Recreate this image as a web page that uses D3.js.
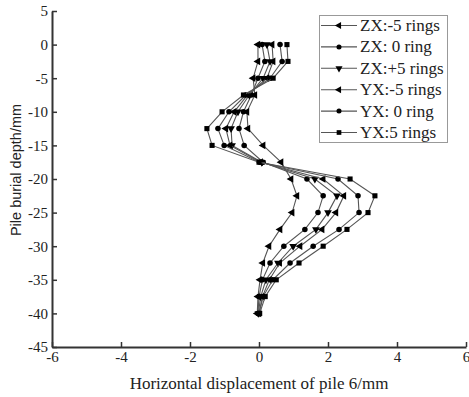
<!DOCTYPE html>
<html>
<head>
<meta charset="utf-8">
<script src="https://cdn.jsdelivr.net/npm/d3@7"></script>
<style>
  html, body { margin: 0; padding: 0; background: #fff; }
  svg text { font-family: "Liberation Serif", "Times New Roman", serif; fill: #222; }
</style>
</head>
<body>
<svg id="chart" width="469" height="397"></svg>
<script>
// Burial depth of each measuring point (mm)
const depths = [0, -2.5, -5, -7.5, -10, -12.5, -15, -17.5, -20, -22.5, -25, -27.5, -30, -32.5, -35, -37.5, -40];

// Horizontal displacement of the pile at each depth (mm)
const zxMinus5 = [-0.03, -0.03, -0.17, -0.12, -0.35, -0.32, 0.12, 0.64, 0.93, 1.10, 0.96, 0.61, 0.29, 0.11, 0.03, -0.03, -0.05];
const zx0      = [0.09, 0.17, -0.03, -0.22, -0.45, -0.58, -0.43, 0.12, 1.39, 1.86, 1.71, 1.33, 0.72, 0.32, 0.10, 0.00, -0.03];
const zxPlus5  = [0.23, 0.32, 0.12, -0.28, -0.61, -0.81, -0.78, 0.08, 1.62, 2.26, 2.00, 1.65, 0.99, 0.55, 0.20, 0.05, -0.02];
const yxMinus5 = [0.38, 0.41, 0.23, -0.33, -0.72, -0.96, -0.84, 0.05, 1.86, 2.46, 2.23, 1.83, 1.19, 0.60, 0.30, 0.10, 0.00];
const yx0      = [0.61, 0.67, 0.32, -0.38, -0.87, -1.19, -1.01, 0.02, 2.29, 2.87, 2.90, 2.32, 1.57, 0.90, 0.40, 0.12, 0.00];
const yx5      = [0.81, 0.84, 0.41, -0.45, -1.07, -1.51, -1.36, 0.00, 2.64, 3.36, 3.16, 2.55, 1.86, 1.16, 0.50, 0.18, 0.02];

const seriesNames = ["ZX:-5 rings", "ZX: 0 ring", "ZX:+5 rings", "YX:-5 rings", "YX: 0 ring", "YX:5 rings"];
const seriesValues = [zxMinus5, zx0, zxPlus5, yxMinus5, yx0, yx5];
const seriesMarkers = ["left", "circle", "down", "left", "circle", "square"];

const xTicks = [-6, -4, -2, 0, 2, 4, 6];
const yTicks = [5, 0, -5, -10, -15, -20, -25, -30, -35, -40, -45];

const svg = d3.select("#chart");
const x = d3.scaleLinear().domain([-6, 6]).range([52, 466]);
const y = d3.scaleLinear().domain([5, -45]).range([11, 347]);

const axisColor = "#333";

// Axes with inward ticks
const gx = svg.append("g").attr("transform", `translate(0,${y(-45)})`)
  .call(d3.axisBottom(x).tickValues(xTicks).tickSizeInner(-5).tickSizeOuter(0).tickPadding(4).tickFormat(d3.format("d")));
const gy = svg.append("g").attr("transform", `translate(${x(-6)},0)`)
  .call(d3.axisLeft(y).tickValues(yTicks).tickSizeInner(-5).tickSizeOuter(0).tickPadding(4).tickFormat(d3.format("d")));
[gx, gy].forEach(g => {
  g.select(".domain").attr("stroke", axisColor).attr("stroke-width", 2);
  g.selectAll(".tick line").attr("stroke", axisColor).attr("stroke-width", 1.5);
  g.selectAll(".tick text").attr("font-size", 15).style("font-family", "Liberation Serif, serif").attr("fill", "#222");
});
gx.selectAll(".tick text").text(d => d < 0 ? "-" + Math.abs(d) : d);
gy.selectAll(".tick text").text(d => d < 0 ? "-" + Math.abs(d) : d);

// Axis titles
svg.append("text").attr("x", 259).attr("y", 389).attr("text-anchor", "middle")
  .attr("font-size", 17).text("Horizontal displacement of pile 6/mm");
svg.append("text").attr("transform", "translate(21,170) rotate(-90)").attr("text-anchor", "middle")
  .style("font-family", "Liberation Sans, Arial, sans-serif")
  .attr("font-size", 14.5).text("Pile burial depth/mm");

const line = d3.line().x(d => x(d[0])).y(d => y(d[1]));

function symbolFor(kind) {
  return kind === "circle" ? d3.symbolCircle : kind === "square" ? d3.symbolSquare : d3.symbolTriangle;
}
function rotationFor(kind) {
  return kind === "left" ? -90 : kind === "down" ? 180 : 0;
}

// Series: grey polyline with black markers
seriesValues.forEach((vals, i) => {
  const pts = vals.map((v, j) => [v, depths[j]]);
  const g = svg.append("g");
  g.append("path").datum(pts).attr("d", line)
    .attr("fill", "none").attr("stroke", "#555").attr("stroke-width", 1.1);
  const kind = seriesMarkers[i];
  const rot = rotationFor(kind);
  g.selectAll("path.m").data(pts).enter().append("path").attr("class", "m")
    .attr("d", d3.symbol().type(symbolFor(kind)).size(kind === "circle" ? 24 : 26)())
    .attr("fill", "#000")
    .attr("transform", d => `translate(${x(d[0])},${y(d[1])}) rotate(${rot})`);
});

// Legend
const lg = svg.append("g");
lg.append("rect").attr("x", 319.5).attr("y", 15.5).attr("width", 128).attr("height", 127)
  .attr("fill", "#fff").attr("stroke", "#999").attr("stroke-width", 1);
seriesNames.forEach((name, i) => {
  const cy = 25.5 + i * 21.4;
  lg.append("line").attr("x1", 321).attr("x2", 357).attr("y1", cy).attr("y2", cy)
    .attr("stroke", "#555").attr("stroke-width", 1.1);
  const kind = seriesMarkers[i];
  lg.append("path").attr("d", d3.symbol().type(symbolFor(kind)).size(kind === "circle" ? 20 : 22)())
    .attr("fill", "#000").attr("transform", `translate(339,${cy}) rotate(${rotationFor(kind)})`);
  lg.append("text").attr("x", 360).attr("y", cy + 5.5).attr("font-size", 17).text(name);
});
</script>
</body>
</html>
